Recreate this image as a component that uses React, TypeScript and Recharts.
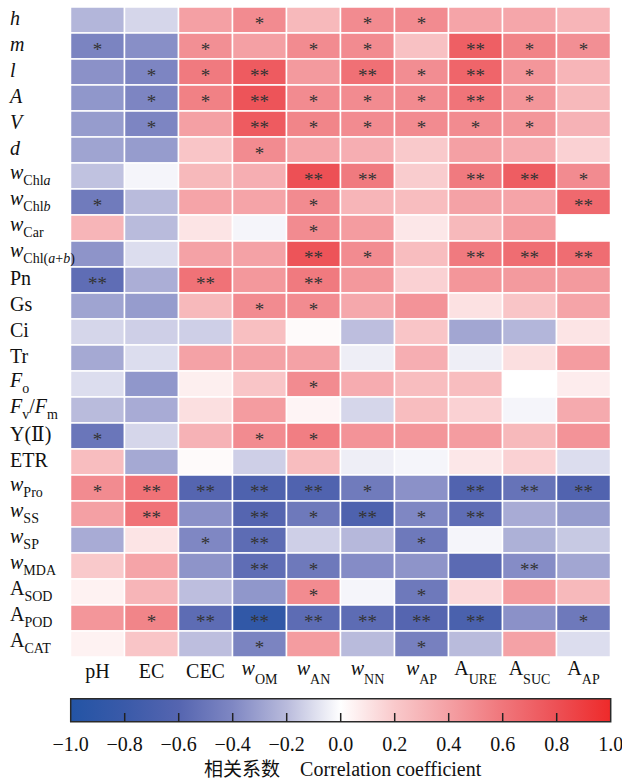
import React from 'react';
import { BarChart, Bar, XAxis, YAxis, Cell, LabelList, Label } from 'recharts';

// ---------- categories ----------
const rowKeys = ['h','m','l','A','V','d','wChla','wChlb','wCar','wChlab','Pn','Gs','Ci','Tr','Fo','FvFm','YII','ETR','wPro','wSS','wSP','wMDA','ASOD','APOD','ACAT'];
const colKeys = ['pH','EC','CEC','wOM','wAN','wNN','wAP','AURE','ASUC','AAP'];

type Seg = { t: string; i?: boolean; s?: boolean };
const rowLabels: Seg[][] = [
  [{ t: 'h', i: true }],
  [{ t: 'm', i: true }],
  [{ t: 'l', i: true }],
  [{ t: 'A', i: true }],
  [{ t: 'V', i: true }],
  [{ t: 'd', i: true }],
  [{ t: 'w', i: true }, { t: 'Chl', s: true }, { t: 'a', s: true, i: true }],
  [{ t: 'w', i: true }, { t: 'Chl', s: true }, { t: 'b', s: true, i: true }],
  [{ t: 'w', i: true }, { t: 'Car', s: true }],
  [{ t: 'w', i: true }, { t: 'Chl(', s: true }, { t: 'a', s: true, i: true }, { t: '+', s: true }, { t: 'b', s: true, i: true }, { t: ')', s: true }],
  [{ t: 'Pn' }],
  [{ t: 'Gs' }],
  [{ t: 'Ci' }],
  [{ t: 'Tr' }],
  [{ t: 'F', i: true }, { t: 'o', s: true }],
  [{ t: 'F', i: true }, { t: 'v', s: true }, { t: '/' }, { t: 'F', i: true }, { t: 'm', s: true }],
  [{ t: 'Y(Ⅱ)' }],
  [{ t: 'ETR' }],
  [{ t: 'w', i: true }, { t: 'Pro', s: true }],
  [{ t: 'w', i: true }, { t: 'SS', s: true }],
  [{ t: 'w', i: true }, { t: 'SP', s: true }],
  [{ t: 'w', i: true }, { t: 'MDA', s: true }],
  [{ t: 'A' }, { t: 'SOD', s: true }],
  [{ t: 'A' }, { t: 'POD', s: true }],
  [{ t: 'A' }, { t: 'CAT', s: true }],
];
const colLabels: Seg[][] = [
  [{ t: 'pH' }],
  [{ t: 'EC' }],
  [{ t: 'CEC' }],
  [{ t: 'w', i: true }, { t: 'OM', s: true }],
  [{ t: 'w', i: true }, { t: 'AN', s: true }],
  [{ t: 'w', i: true }, { t: 'NN', s: true }],
  [{ t: 'w', i: true }, { t: 'AP', s: true }],
  [{ t: 'A' }, { t: 'URE', s: true }],
  [{ t: 'A' }, { t: 'SUC', s: true }],
  [{ t: 'A' }, { t: 'AP', s: true }],
];

// ---------- correlation values (one array per column, rows in rowKeys order) ----------
const pH   = [-0.22,-0.42,-0.36,-0.34,-0.32,-0.29,-0.18,-0.47, 0.30,-0.35,-0.55,-0.29,-0.12,-0.27,-0.10,-0.20,-0.50, 0.26, 0.50, 0.40,-0.26, 0.20, 0.05, 0.45, 0.05];
const EC   = [-0.12,-0.37,-0.41,-0.41,-0.41,-0.32,-0.03,-0.20,-0.20,-0.10,-0.25,-0.32,-0.14,-0.10,-0.34,-0.26,-0.12,-0.27, 0.62, 0.62, 0.10, 0.38, 0.30, 0.53, 0.22];
const CEC  = [ 0.40, 0.48, 0.58, 0.55, 0.40, 0.22, 0.28, 0.38, 0.10, 0.39, 0.62, 0.28,-0.14, 0.39, 0.06, 0.12, 0.31, 0.02,-0.60,-0.36,-0.40,-0.35,-0.19,-0.56,-0.19];
const wOM  = [ 0.50, 0.40, 0.74, 0.78, 0.74, 0.50, 0.33, 0.38,-0.03, 0.39, 0.44, 0.50, 0.25, 0.39, 0.22, 0.42, 0.50,-0.14,-0.65,-0.60,-0.56,-0.55,-0.34,-0.88,-0.42];
const wAN  = [ 0.28, 0.50, 0.43, 0.50, 0.53, 0.37, 0.80, 0.50, 0.50, 0.78, 0.58, 0.50, 0.02, 0.39, 0.50, 0.04, 0.56, 0.26,-0.64,-0.48,-0.14,-0.48, 0.50,-0.56, 0.42];
const wNN  = [ 0.50, 0.50, 0.63, 0.50, 0.50, 0.33, 0.58, 0.30, 0.42, 0.50, 0.44, 0.36,-0.19,-0.05, 0.34,-0.12, 0.46,-0.05,-0.47,-0.65,-0.21,-0.38,-0.03,-0.56,-0.20];
const wAP  = [ 0.50, 0.24, 0.49, 0.50, 0.50, 0.20, 0.19, 0.26, 0.09, 0.26, 0.17, 0.46, 0.22, 0.33, 0.26, 0.26, 0.45,-0.03,-0.36,-0.40,-0.48,-0.35,-0.48,-0.60,-0.44];
const AURE = [ 0.38, 0.72, 0.69, 0.61, 0.50, 0.40, 0.58, 0.39, 0.28, 0.58, 0.45, 0.11,-0.28,-0.05, 0.26, 0.17, 0.42, 0.09,-0.63,-0.55,-0.03,-0.57, 0.14,-0.68,-0.20];
const ASUC = [ 0.37, 0.54, 0.45, 0.45, 0.45, 0.34, 0.73, 0.38, 0.42, 0.65, 0.43, 0.22,-0.22, 0.12, 0.00,-0.03, 0.28, 0.17,-0.52,-0.26,-0.24,-0.38, 0.42,-0.36, 0.39];
const AAP  = [ 0.30, 0.48, 0.30, 0.28, 0.31, 0.17, 0.50, 0.67, 0.00, 0.65, 0.43, 0.38, 0.10, 0.42, 0.07, 0.35, 0.46,-0.10,-0.63,-0.32,-0.16,-0.28, 0.28,-0.48,-0.10];

// ---------- significance marks ----------
const pHSig   = ['','*','','','','','','*','','','**','','','','','','*','','*','','','','','',''];
const ECSig   = ['','','*','*','*','','','','','','','','','','','','','','**','**','','','','*',''];
const CECSig  = ['','*','*','*','','','','','','','**','','','','','','','','**','','*','','','**',''];
const wOMSig  = ['*','','**','**','**','*','','','','','','*','','','','','*','','**','**','**','**','','**','*'];
const wANSig  = ['','*','','*','*','','**','*','*','**','**','*','','','*','','*','','**','*','','*','*','**',''];
const wNNSig  = ['*','*','**','*','*','','**','','','*','','','','','','','','','*','**','','','','**',''];
const wAPSig  = ['*','','*','*','*','','','','','','','','','','','','','','','*','*','','*','**','*'];
const AURESig = ['','**','**','**','*','','**','','','**','','','','','','','','','**','**','','','','**',''];
const ASUCSig = ['','*','*','*','*','','**','','','**','','','','','','','','','**','','','**','','',''];
const AAPSig  = ['','*','','','','','*','**','','**','','','','','','','','','**','','','','','*',''];

const colValues = [pH, EC, CEC, wOM, wAN, wNN, wAP, AURE, ASUC, AAP];
const colSigs = [pHSig, ECSig, CECSig, wOMSig, wANSig, wNNSig, wAPSig, AURESig, ASUCSig, AAPSig];

const cbTicks = [-1, -0.8, -0.6, -0.4, -0.2, 0, 0.2, 0.4, 0.6, 0.8, 1];

// ---------- colour scale ----------
const colorStops: [number, string][] = [
  [-1, '#2354a5'], [-0.8, '#3a5aa9'], [-0.6, '#5565b0'], [-0.4, '#7f87c3'], [-0.2, '#b9bbdc'],
  [0, '#ffffff'], [0.2, '#f9c9cb'], [0.4, '#f4a0a4'], [0.6, '#f0767b'], [0.8, '#ed5055'], [1, '#ee2a2a'],
];
const hex = (h: string) => [parseInt(h.slice(1, 3), 16), parseInt(h.slice(3, 5), 16), parseInt(h.slice(5, 7), 16)];
function colorFor(v: number): string {
  const x = Math.max(-1, Math.min(1, v));
  for (let k = 0; k < colorStops.length - 1; k++) {
    const [a, ca] = colorStops[k];
    const [b, cb] = colorStops[k + 1];
    if (x >= a && x <= b) {
      const t = (x - a) / (b - a);
      const A = hex(ca), B = hex(cb);
      const c = A.map((q, n) => Math.round(q + (B[n] - q) * t));
      return `rgb(${c[0]},${c[1]},${c[2]})`;
    }
  }
  return '#ffffff';
}

const data = rowKeys.map((name, i) => {
  const row: Record<string, any> = { name };
  colKeys.forEach((_, j) => {
    row[`c${j}`] = 1;
    row[`s${j}`] = colSigs[j][i];
  });
  return row;
});
const cbData = [{ name: 'cb', range: [-1, 1] }];

const FONT = '"Liberation Serif", "DejaVu Serif", "Noto Serif", serif';
const CJK = '"Noto Sans CJK SC", sans-serif';

function renderSegs(segs: Seg[], mainDy: number, subDy: number) {
  let cur = 0;
  return segs.map((sg, k) => {
    const target = sg.s ? subDy : mainDy;
    const dy = target - cur;
    cur = target;
    return (
      <tspan key={k} dy={dy} fontSize={sg.s ? 14 : 20} fontStyle={sg.i ? 'italic' : 'normal'}>
        {sg.t}
      </tspan>
    );
  });
}

const RowTick = (props: any) => {
  const { y, index } = props;
  const segs = rowLabels[index] || [];
  const hasSub = segs.some((s) => s.s);
  return (
    <text x={10} y={y} textAnchor="start" fill="#111" style={{ fontFamily: FONT }}>
      {hasSub ? renderSegs(segs, 2.5, 8.5) : renderSegs(segs, 5, 5)}
    </text>
  );
};

const ColTick = (props: any) => {
  const { x, y, index } = props;
  const segs = colLabels[index] || [];
  const hasSub = segs.some((s) => s.s);
  return (
    <text x={x} y={y} textAnchor="middle" fill="#111" style={{ fontFamily: FONT }}>
      {hasSub ? renderSegs(segs, 18, 26.5) : renderSegs(segs, 20.7, 20.7)}
    </text>
  );
};

const StarLabel = (props: any) => {
  const { value } = props;
  if (!value) return null;
  const vb = props.viewBox || {};
  const x = props.x ?? vb.x;
  const y = props.y ?? vb.y;
  const w = props.width ?? vb.width;
  const h = props.height ?? vb.height;
  return (
    <text x={x + w / 2} y={y + h / 2 + 10} textAnchor="middle" fill="#333" fontSize={19} style={{ fontFamily: FONT }}>
      {value}
    </text>
  );
};

const fmt = (v: number) => (v < 0 ? '\u2212' : '') + Math.abs(v).toFixed(1);

const CbTick = (props: any) => {
  const { x, y, payload } = props;
  const v = payload.value;
  const inner = Math.abs(v) < 0.999;
  return (
    <g>
      {inner && <line x1={x} x2={x} y1={y - 9} y2={y} stroke="#222" strokeWidth={1.5} />}
      <text x={x} y={y + 29} textAnchor="middle" fill="#111" fontSize={20} style={{ fontFamily: FONT }}>
        {fmt(v)}
      </text>
    </g>
  );
};

const TitleContent = (props: any) => {
  const vb = props.viewBox || { x: 0, y: 0, width: 0, height: 0 };
  return (
    <text x={vb.x + vb.width / 2 + 2} y={vb.y + 54} textAnchor="middle" fill="#111" fontSize={20} style={{ fontFamily: FONT }}>
      <tspan style={{ fontFamily: CJK }} fontSize={19}>相关系数</tspan>
      <tspan>{'\u2003Correlation coefficient'}</tspan>
    </text>
  );
};

export default function App() {
  return (
    <div style={{ position: 'absolute', left: 0, top: 0, width: 622, height: 784, background: '#fff', fontFamily: FONT }}>
      <div style={{ position: 'absolute', left: 0, top: 0 }}>
        <BarChart
          width={622}
          height={690}
          data={data}
          layout="vertical"
          margin={{ top: 7, right: 11.5, left: 0, bottom: 0 }}
          barCategoryGap={0}
          barGap={0}
        >
          <XAxis
            type="number"
            domain={[0, colKeys.length]}
            ticks={colKeys.map((_, j) => j + 0.5)}
            interval={0}
            tick={<ColTick />}
            tickLine={false}
            axisLine={false}
            tickSize={0}
            tickMargin={0}
            height={33}
          />
          <YAxis
            type="category"
            dataKey="name"
            width={70.5}
            interval={0}
            tick={<RowTick />}
            tickLine={false}
            axisLine={false}
          />
          {colKeys.map((c, j) => (
            <Bar key={c} dataKey={`c${j}`} stackId="s" isAnimationActive={false} stroke="#ffffff" strokeWidth={1.5}>
              {data.map((_, i) => (
                <Cell key={i} fill={colorFor(colValues[j][i])} />
              ))}
              <LabelList dataKey={`s${j}`} content={<StarLabel />} />
            </Bar>
          ))}
        </BarChart>
      </div>
      <div style={{ position: 'absolute', left: 0, top: 690 }}>
        <BarChart
          width={622}
          height={94}
          data={cbData}
          layout="vertical"
          margin={{ top: 8.7, right: 11.3, left: 70.7, bottom: 0 }}
          barCategoryGap={0}
        >
          <defs>
            <linearGradient id="cbGrad" x1="0" y1="0" x2="1" y2="0">
              {colorStops.map(([v, c]) => (
                <stop key={v} offset={`${((v + 1) / 2) * 100}%`} stopColor={c} />
              ))}
            </linearGradient>
          </defs>
          <XAxis
            type="number"
            domain={[-1, 1]}
            ticks={cbTicks}
            interval={0}
            tick={<CbTick />}
            tickLine={false}
            axisLine={false}
            tickSize={0}
            tickMargin={0}
            height={62}
          >
            <Label content={<TitleContent />} />
          </XAxis>
          <YAxis type="category" dataKey="name" hide />
          <Bar dataKey="range" fill="url(#cbGrad)" stroke="#2a2a2a" strokeWidth={1.5} isAnimationActive={false} />
        </BarChart>
      </div>
    </div>
  );
}
